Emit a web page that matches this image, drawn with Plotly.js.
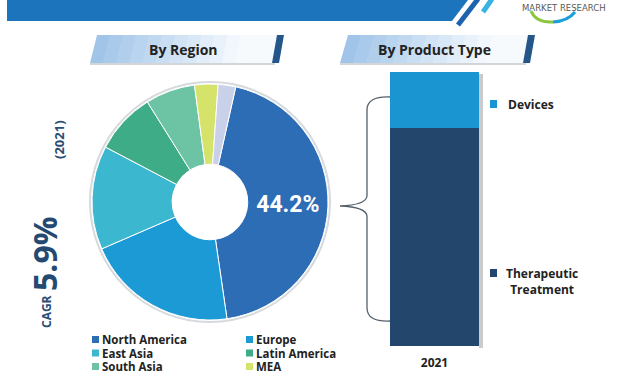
<!DOCTYPE html>
<html><head><meta charset="utf-8">
<script src="https://cdn.plot.ly/plotly-3.0.1.min.js"></script>
<style>html,body{margin:0;padding:0;background:#fff}#chart{width:625px;height:375px}</style>
</head><body><div id="chart"></div>
<script>
// ---- data ----
const regions = ['North America','Europe','East Asia','Latin America','South Asia','MEA','Oceania'];
const regionShares = [44.2, 20.8, 14.2, 8.4, 6.8, 3.2, 2.4];
const regionColors = ['#2d6db6','#1b9ad6','#3bb8cf','#3dac87','#6cc4a4','#d5e36b','#c9d1ea'];
const legendRegions = ['North America','Europe','East Asia','Latin America','South Asia','MEA'];
const years = ['2021'];
const productTypes = ['Therapeutic Treatment','Devices'];
const productShares = [[79.5],[20.5]];
const productColors = ['#22466c','#1b94d2'];
const cagrLabel = 'CAGR', cagrValue = '5.9%', cagrYear = '(2021)';

// ---- helpers (pixel -> paper) ----
const W = 625, H = 375;
const X = x => x / W, Y = y => 1 - y / H;
const P = pts => 'M ' + pts.map(p => X(p[0]).toFixed(4) + ',' + Y(p[1]).toFixed(4)).join(' L ') + ' Z';
const FONT = '"Open Sans", Lato, sans-serif';
const hex = c => [1,3,5].map(i => parseInt(c.substr(i,2),16));
const mix = (a,b,t) => { const A=hex(a),B=hex(b); return 'rgb(' + A.map((v,i)=>Math.round(v+(B[i]-v)*t)).join(',') + ')'; };

const shapes = [];
const annotations = [];

// header banner
shapes.push({type:'path', xref:'paper', yref:'paper', path:P([[7,0],[468,0],[452,21],[7,21]]), fillcolor:'#1c75bc', line:{width:0}});
shapes.push({type:'line', xref:'paper', yref:'paper', x0:X(458), y0:Y(25), x1:X(478), y1:Y(-1), line:{color:'#1d62ad', width:5}});
shapes.push({type:'line', xref:'paper', yref:'paper', x0:X(483), y0:Y(12), x1:X(492), y1:Y(-1), line:{color:'#3ab3e3', width:5}});
// logo swoosh
shapes.push({type:'path', xref:'paper', yref:'paper', path:'M '+X(531)+','+Y(11)+' Q '+X(536)+','+Y(23)+' '+X(553)+','+Y(22), line:{color:'#8cc63f', width:3}});
shapes.push({type:'path', xref:'paper', yref:'paper', path:'M '+X(553)+','+Y(22)+' Q '+X(568)+','+Y(21)+' '+X(575)+','+Y(12), line:{color:'#1a9fdb', width:3}});
annotations.push({xref:'paper', yref:'paper', x:X(564), y:Y(4), xanchor:'center', yanchor:'bottom', showarrow:false,
  text:'<b>PERSISTENCE</b>', font:{family:'"DejaVu Sans", sans-serif', size:12, color:'#5a5a5a'}});
annotations.push({xref:'paper', yref:'paper', x:X(564), y:Y(8), xanchor:'center', yanchor:'middle', showarrow:false,
  text:'MARKET RESEARCH', font:{family:'"DejaVu Sans", sans-serif', size:8.5, color:'#5a5a5a'}});

// section banners with a stepped gradient
function banner(tl, tr, br, bl, label, cx) {
  const N = 14;
  for (let i = 0; i < N; i++) {
    const t0 = i / N, t1 = (i + 1) / N;
    const lerp = (a, b, t) => [a[0] + (b[0]-a[0])*t, a[1] + (b[1]-a[1])*t];
    const tt = Math.min(1, (t0 + t1) / 2 / 0.8);
    shapes.push({type:'path', xref:'paper', yref:'paper', layer:'below',
      path:P([lerp(tl,tr,t0), lerp(tl,tr,t1+0.002), lerp(bl,br,t1+0.002), lerp(bl,br,t0)]),
      fillcolor:mix('#9dc2e7','#f7fafd',tt), line:{width:0}});
  }
  shapes.push({type:'line', xref:'paper', yref:'paper', x0:X(bl[0]), y0:Y(bl[1]+1), x1:X(br[0]), y1:Y(br[1]+1), line:{color:'#c4c8cc', width:1.5}});
  shapes.push({type:'path', xref:'paper', yref:'paper', path:P([[tr[0]-3,tr[1]],[tr[0]+4,tr[1]],[br[0]+4,br[1]],[br[0]-3,br[1]]]), fillcolor:'#24568a', line:{width:0}});
  annotations.push({xref:'paper', yref:'paper', x:X(cx), y:Y(50), xanchor:'center', yanchor:'middle', showarrow:false,
    text:'<b>'+label+'</b>', font:{family:FONT, size:14, color:'#222'}});
}
banner([97,35],[280,35],[275,63],[90,63],'By Region',183);
banner([348,35],[531,35],[526,63],[340,63],'By Product Type',435);

// CAGR vertical text
annotations.push({xref:'paper', yref:'paper', x:X(46), y:Y(312), textangle:-90, showarrow:false, xanchor:'center', yanchor:'middle',
  text:'<b>'+cagrLabel+'</b>', font:{family:FONT, size:12, color:'#2a4d74'}});
annotations.push({xref:'paper', yref:'paper', x:X(44), y:Y(254), textangle:-90, showarrow:false, xanchor:'center', yanchor:'middle',
  text:'<b>'+cagrValue+'</b>', font:{family:FONT, size:32, color:'#254a72'}});
annotations.push({xref:'paper', yref:'paper', x:X(59), y:Y(140), textangle:-90, showarrow:false, xanchor:'center', yanchor:'middle',
  text:'<b>'+cagrYear+'</b>', font:{family:FONT, size:13, color:'#2a4d74'}});

// pie shadow ring
shapes.push({type:'circle', xref:'paper', yref:'paper', layer:'below', x0:X(90), x1:X(330), y0:Y(322), y1:Y(82), line:{color:'#d6d9dd', width:2}, fillcolor:'rgba(0,0,0,0)'});

// region legend
const legCols = [92, 246], legRows = [339.5, 353, 366.5];
legendRegions.forEach((name, i) => {
  const cx = legCols[i % 2], cy = legRows[Math.floor(i / 2)];
  const ci = regions.indexOf(name);
  shapes.push({type:'rect', xref:'paper', yref:'paper', x0:X(cx), x1:X(cx+7), y0:Y(cy+3.5), y1:Y(cy-3.5), fillcolor:regionColors[ci], line:{width:0}});
  annotations.push({xref:'paper', yref:'paper', x:X(cx+9), y:Y(cy), xanchor:'left', yanchor:'middle', showarrow:false,
    text:'<b>'+name+'</b>', font:{family:FONT, size:11.5, color:'#222'}, borderpad:0});
});

// product legend
const prodLegY = [273, 104];
productTypes.forEach((name, i) => {
  const cy = prodLegY[i];
  shapes.push({type:'rect', xref:'paper', yref:'paper', x0:X(490), x1:X(497), y0:Y(cy+4), y1:Y(cy-4), fillcolor:productColors[i], line:{width:0}});
  const txt = name === 'Therapeutic Treatment' ? '<b>Therapeutic</b><br><b>Treatment</b>' : '<b>'+name+'</b>';
  annotations.push({xref:'paper', yref:'paper', x: name === 'Therapeutic Treatment' ? X(542) : X(506),
    y: name === 'Therapeutic Treatment' ? Y(281) : Y(cy), xanchor: name === 'Therapeutic Treatment' ? 'center' : 'left',
    yanchor:'middle', showarrow:false, align:'center', text:txt, font:{family:FONT, size:12, color:'#222'}});
});

// bar shadow
shapes.push({type:'rect', xref:'paper', yref:'paper', layer:'below', x0:X(479), x1:X(483), y0:Y(348), y1:Y(74), fillcolor:'#c9cbcd', line:{width:0}});

// brace
const br = 'M '+X(390)+','+Y(97)+' Q '+X(367)+','+Y(96)+' '+X(367)+','+Y(110)+
  ' L '+X(367)+','+Y(196)+' Q '+X(366)+','+Y(205)+' '+X(340)+','+Y(206)+
  ' Q '+X(366)+','+Y(207)+' '+X(367)+','+Y(216)+
  ' L '+X(367)+','+Y(308)+' Q '+X(367)+','+Y(322)+' '+X(390)+','+Y(321);
shapes.push({type:'path', xref:'paper', yref:'paper', path:br, line:{color:'#55606b', width:1.3}});

const traces = [{
  type:'pie', labels:regions, values:regionShares, sort:false, direction:'clockwise', rotation:12.6,
  hole:0.32, marker:{colors:regionColors, line:{color:'#ffffff', width:1}},
  texttemplate: regions.map((r,i) => i === 0 ? '%{percent:.1%}' : ''),
  textposition:'inside', insidetextorientation:'horizontal',
  insidetextfont:{family:'Roboto, Arial, sans-serif', size:23, color:'#ffffff', weight:'bold'},
  domain:{x:[X(92), X(328)], y:[Y(320), Y(84)]}, showlegend:false, hoverinfo:'skip'
}];
productTypes.forEach((name, i) => {
  traces.push({type:'bar', name:name, x:years, y:productShares[i], width:1,
    marker:{color:productColors[i], line:{width:0}}, showlegend:false, hoverinfo:'skip', xaxis:'x', yaxis:'y'});
});

const layout = {
  width:W, height:H, margin:{l:0, r:0, t:0, b:0}, paper_bgcolor:'#ffffff', plot_bgcolor:'rgba(0,0,0,0)',
  barmode:'stack', showlegend:false,
  xaxis:{domain:[X(390), X(479)], type:'category', range:[-0.5,0.5], showgrid:false, zeroline:false, showline:false,
    ticks:'', ticklabelstandoff:8, tickfont:{family:FONT, size:12, color:'#222', weight:'bold'}, fixedrange:true},
  yaxis:{domain:[Y(346), Y(72)], range:[0,100], visible:false, fixedrange:true},
  shapes:shapes, annotations:annotations
};
Plotly.newPlot('chart', traces, layout, {displayModeBar:false, staticPlot:true});
</script></body></html>
